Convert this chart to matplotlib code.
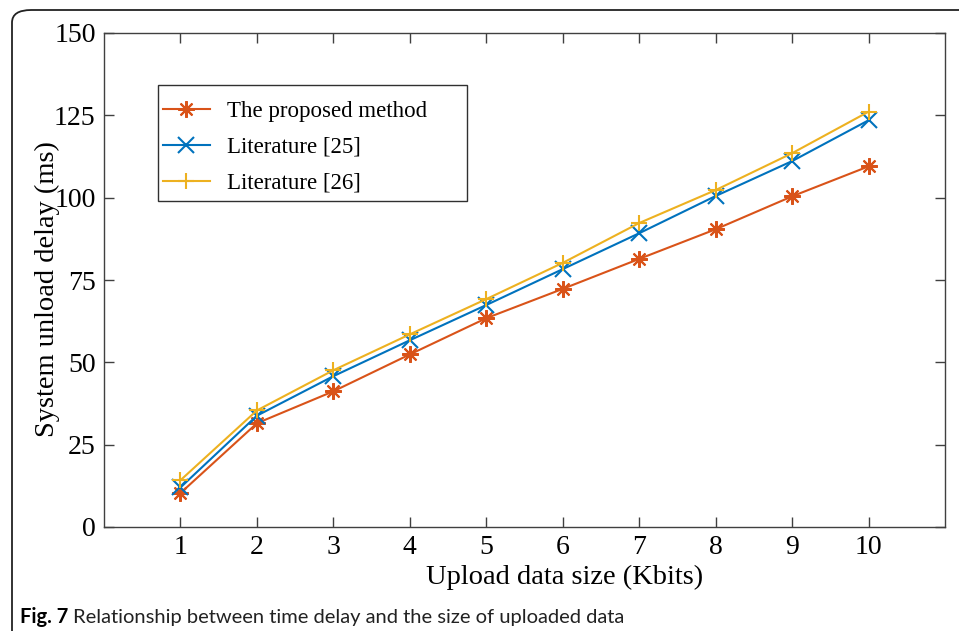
"""
Fig. 7 - system unload delay vs upload data size (three methods).
"""

import matplotlib
matplotlib.use("Agg")
import matplotlib.pyplot as plt
from matplotlib.patches import FancyBboxPatch, Rectangle

# data
sizes = [1, 2, 3, 4, 5, 6, 7, 8, 9, 10]
proposed = [10.3, 31.5, 41.2, 52.4, 63.4, 72.3, 81.4, 90.4, 100.4, 109.5]
lit25 = [12.0, 33.8, 45.8, 56.7, 67.4, 78.3, 89.2, 100.5, 111.1, 123.5]
lit26 = [14.2, 35.4, 47.6, 58.5, 69.2, 80.2, 92.3, 102.3, 113.5, 126.1]

names = ["The proposed method", "Literature [25]", "Literature [26]"]
colors = ["#D95319", "#0072BD", "#EDB120"]
markers = [(8, 2, 0), "x", "+"]

W, H = 959, 631
fig = plt.figure(figsize=(W / 100, H / 100), dpi=100)

# rounded frame around the figure
frame = FancyBboxPatch((12 / W, -0.2), 1.2, (H - 10) / H + 0.2,
                       boxstyle="round,pad=0,rounding_size=0.02",
                       transform=fig.transFigure, fill=False,
                       edgecolor="#222222", linewidth=1.3)
fig.patches.append(frame)

AX_L, AX_T, AX_W, AX_H = 104, 33, 841, 494
ax = fig.add_axes([AX_L / W, (H - AX_T - AX_H) / H, AX_W / W, AX_H / H])

serif = "Liberation Serif"
for vals, name, c, m in zip([proposed, lit25, lit26], names, colors, markers):
    ax.plot(sizes, vals, color=c, marker=m, markersize=12, linewidth=1.5,
            markeredgewidth=1.5, label=name)

ax.set_xlim(0, 11)
ax.set_ylim(0, 150)
ax.set_xticks(sizes)
ax.set_yticks([0, 25, 50, 75, 100, 125, 150])
ax.tick_params(direction="in", top=True, right=True, length=7, width=1,
               color="#404040", labelsize=20, pad=6)
for lab in ax.get_xticklabels() + ax.get_yticklabels():
    lab.set_family(serif)
for s in ax.spines.values():
    s.set_color("#404040")
    s.set_linewidth(1)

fig.text(565 / W, 1 - 577 / H, "Upload data size (Kbits)", family=serif,
         fontsize=20.5, ha="center", va="center")
fig.text(47 / W, 1 - 289 / H, "System unload delay (ms)", family=serif,
         fontsize=20.5, ha="center", va="center", rotation=90)

# legend box drawn by hand (wide right margin as in the original)
box = Rectangle(((158 - AX_L) / AX_W, 1 - (201 - AX_T) / AX_H),
                309 / AX_W, 116 / AX_H, transform=ax.transAxes,
                facecolor="white", edgecolor="#303030", linewidth=1, zorder=4)
ax.add_patch(box)
leg = ax.legend(loc="upper left",
                bbox_to_anchor=((163 - AX_L) / AX_W, 1 - (100.5 - AX_T) / AX_H),
                prop={"family": serif, "size": 16.5}, frameon=False,
                borderpad=0, handlelength=2.05, labelspacing=0.66,
                handletextpad=0.75, borderaxespad=0)
leg.set_zorder(5)

# caption
cap_y = 1 - 617 / H
bold = fig.text(20 / W, cap_y, "Fig. 7", family="Lato", fontweight="bold",
                fontsize=14.5, ha="left", va="center")
r = fig.canvas.get_renderer()
bb = bold.get_window_extent(r)
fig.text((bb.x1 + 5) / W, cap_y,
         "Relationship between time delay and the size of uploaded data",
         family="Lato", fontsize=14.5, ha="left", va="center", color="#222222")

fig.savefig("out.png", dpi=100)
